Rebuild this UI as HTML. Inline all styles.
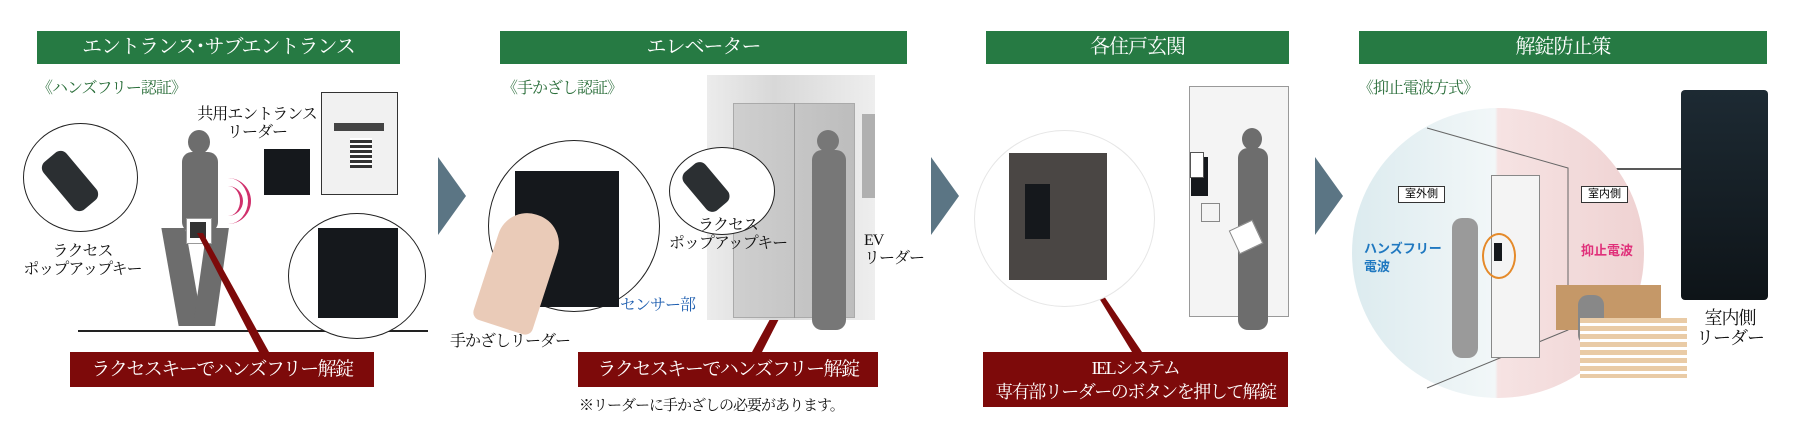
<!DOCTYPE html>
<html><head><meta charset="utf-8"><style>
html,body{margin:0;padding:0}
body{width:1810px;height:442px;background:#fff;position:relative;overflow:hidden;font-family:"Liberation Serif","Noto Serif CJK JP",serif}
.a{position:absolute}
.hd{position:absolute;top:31px;height:33px;background:#267a43;color:#fff;font-size:20px;letter-spacing:-1px;line-height:33px;text-align:center;white-space:nowrap}
.rb{position:absolute;background:#7d0a0a;color:#fff;font-size:19px;letter-spacing:-1.5px;text-align:center;white-space:nowrap}
.sub{position:absolute;top:75px;color:#2a6e3a;font-size:16px;letter-spacing:-1px;white-space:nowrap}
.t{position:absolute;font-size:16px;letter-spacing:-1px;color:#111;line-height:18px;text-align:center;white-space:nowrap}
.chev{position:absolute;top:157px;width:0;height:0;border-top:39px solid transparent;border-bottom:39px solid transparent;border-left:28px solid #5b7584}
.circ{position:absolute;border:1.5px solid #222;border-radius:50%;background:#fff}
.dark{position:absolute;background:#15181c}
.sil{position:absolute;background:#6d6d6d}
.lb{position:absolute;height:15px;border:1px solid #333;background:#fff;font-size:11px;text-align:center;line-height:15px;font-family:"Liberation Sans","Noto Sans CJK JP",sans-serif}
</style></head><body>
<div class="hd" style="left:37px;width:363px">エントランス･サブエントランス</div>
<div class="hd" style="left:500px;width:407px">エレベーター</div>
<div class="hd" style="left:986px;width:303px">各住戸玄関</div>
<div class="hd" style="left:1359px;width:408px">解錠防止策</div>

<div class="sub" style="left:37px">《ハンズフリー認証》</div>
<div class="sub" style="left:502px">《手かざし認証》</div>
<div class="sub" style="left:1358px">《抑止電波方式》</div>

<div class="chev" style="left:438px"></div>
<div class="chev" style="left:931px"></div>
<div class="chev" style="left:1315px"></div>

<!-- panel 1 -->
<div class="a" style="left:78px;top:330px;width:350px;height:1.5px;background:#222"></div>
<div class="circ" style="left:23px;top:123px;width:113px;height:107px"></div>
<div class="a" style="left:55px;top:150px;width:30px;height:62px;transform:rotate(-40deg);border-radius:8px;background:#2b2f32"></div>
<div class="t" style="left:20px;top:243px;width:125px">ラクセス<br>ポップアップキー</div>
<div class="sil" style="left:188px;top:130px;width:22px;height:24px;border-radius:50%"></div>
<div class="sil" style="left:182px;top:152px;width:36px;height:80px;border-radius:10px"></div>
<div class="sil" style="left:170px;top:228px;width:24px;height:98px;transform:skewX(10deg)"></div>
<div class="sil" style="left:200px;top:228px;width:22px;height:98px;transform:skewX(-8deg)"></div>
<div class="a" style="left:186px;top:218px;width:24px;height:24px;background:#fff;border:1px solid #999"></div>
<div class="a" style="left:190px;top:222px;width:16px;height:16px;background:#333"></div>
<div class="a" style="left:214px;top:178px;width:34px;height:46px;border-right:3px solid #d0306c;border-radius:0 40px 40px 0"></div>
<div class="a" style="left:208px;top:186px;width:32px;height:30px;border-right:3px solid #d0306c;border-radius:0 30px 30px 0"></div>
<svg class="a" style="left:0;top:0" width="1810" height="442"><polygon points="197,233 203,233 269,352 259,352" fill="#7d0a0a"/><polygon points="817,233 823,233 762,352 752,352" fill="#7d0a0a"/><polygon points="1088,280 1093,280 1142,352 1132,352" fill="#7d0a0a"/><line x1="571" y1="243" x2="629" y2="292" stroke="#1f5fb0" stroke-width="1.5"/><line x1="1569" y1="169" x2="1681" y2="169" stroke="#222" stroke-width="1.5"/></svg>
<div class="t" style="left:192px;top:106px;width:130px">共用エントランス<br>リーダー</div>
<div class="dark" style="left:264px;top:149px;width:46px;height:46px"></div>
<div class="a" style="left:321px;top:92px;width:77px;height:103px;border:1px solid #333;background:#f1f1f1;box-sizing:border-box"></div>
<div class="a" style="left:334px;top:123px;width:50px;height:8px;background:#444"></div>
<div class="a" style="left:350px;top:138px;width:22px;height:30px;background:repeating-linear-gradient(#fff 0 2px,#333 2px 5px)"></div>
<div class="circ" style="left:288px;top:213px;width:136px;height:124px"></div>
<div class="dark" style="left:318px;top:228px;width:80px;height:90px"></div>
<div class="rb" style="left:70px;top:352px;width:304px;height:35px;line-height:35px">ラクセスキーでハンズフリー解錠</div>

<!-- panel 2 -->
<div class="a" style="left:707px;top:75px;width:168px;height:245px;background:linear-gradient(90deg,#ececec,#d8d8d8 40%,#eee)"></div>
<div class="a" style="left:733px;top:103px;width:122px;height:215px;background:linear-gradient(90deg,#cfcfcf,#bdbdbd);border:1px solid #aaa;box-sizing:border-box"></div>
<div class="a" style="left:794px;top:103px;width:1px;height:215px;background:#999"></div>
<div class="a" style="left:862px;top:114px;width:13px;height:84px;background:#b0b0b0"></div>
<div class="sil" style="left:817px;top:130px;width:22px;height:22px;border-radius:50%;background:#777"></div>
<div class="sil" style="left:812px;top:150px;width:34px;height:180px;border-radius:10px;background:#777"></div>
<div class="circ" style="left:488px;top:140px;width:170px;height:170px"></div>
<div class="dark" style="left:515px;top:171px;width:104px;height:136px"></div>
<div class="a" style="left:488px;top:212px;width:62px;height:118px;background:#eacbb8;border-radius:30px 30px 8px 8px;transform:rotate(18deg)"></div>
<div class="circ" style="left:669px;top:147px;width:104px;height:86px"></div>
<div class="a" style="left:692px;top:162px;width:28px;height:50px;transform:rotate(-40deg);border-radius:8px;background:#2b2f32"></div>
<div class="t" style="left:663px;top:217px;width:130px">ラクセス<br>ポップアップキー</div>
<div class="t" style="left:864px;top:232px;width:50px;text-align:left">EV<br>リーダー</div>
<div class="t" style="left:450px;top:333px;text-align:left">手かざしリーダー</div>
<div class="t" style="left:620px;top:297px;color:#1f5fb0;text-align:left">センサー部</div>
<div class="rb" style="left:578px;top:352px;width:300px;height:35px;line-height:35px">ラクセスキーでハンズフリー解錠</div>
<div class="t" style="left:579px;top:397px;font-size:15px;text-align:left">※リーダーに手かざしの必要があります。</div>

<!-- panel 3 -->
<div class="circ" style="left:974px;top:130px;width:179px;height:175px;border-color:#e6e6e6"></div>
<div class="a" style="left:1009px;top:153px;width:98px;height:127px;background:#4a4644"></div>
<div class="dark" style="left:1025px;top:184px;width:25px;height:55px"></div>
<div class="a" style="left:1189px;top:86px;width:100px;height:231px;background:#f4f4f4;border:1px solid #999;box-sizing:border-box"></div>
<div class="dark" style="left:1191px;top:157px;width:17px;height:39px"></div>
<div class="a" style="left:1190px;top:152px;width:12px;height:24px;border:1px solid #555;background:#fff"></div>
<div class="a" style="left:1201px;top:203px;width:17px;height:17px;border:1px solid #888"></div>
<div class="sil" style="left:1242px;top:128px;width:20px;height:22px;border-radius:50%"></div>
<div class="sil" style="left:1238px;top:148px;width:30px;height:182px;border-radius:10px"></div>
<div class="a" style="left:1233px;top:224px;width:24px;height:24px;background:#fff;border:1px solid #888;transform:rotate(-25deg)"></div>
<div class="rb" style="left:983px;top:352px;width:305px;height:55px;line-height:24px;padding-top:4px;box-sizing:border-box;font-size:18px">IELシステム<br>専有部リーダーのボタンを押して解錠</div>

<!-- panel 4 -->
<div class="a" style="left:1352px;top:108px;width:292px;height:290px;border-radius:50%;background:linear-gradient(90deg,#dcebef 0%,#f2f7f8 49%,#f6e3e3 50%,#efd2d2 100%)"></div>
<svg class="a" style="left:0;top:0" width="1810" height="442"><polyline points="1427,128 1568,168 1568,330 1427,388" fill="none" stroke="#666" stroke-width="1"/></svg>
<div class="a" style="left:1491px;top:175px;width:49px;height:183px;background:#f4f4f4;border:1px solid #888;box-sizing:border-box"></div>
<div class="sil" style="left:1452px;top:218px;width:26px;height:140px;background:#9a9a9a;border-radius:10px"></div>
<div class="a" style="left:1482px;top:233px;width:34px;height:46px;border:2.5px solid #e58a2a;border-radius:50%;box-sizing:border-box"></div>
<div class="dark" style="left:1494px;top:243px;width:8px;height:18px"></div>
<div class="a" style="left:1556px;top:285px;width:105px;height:45px;background:#c59868"></div>
<div class="sil" style="left:1578px;top:295px;width:26px;height:50px;background:#888;border-radius:10px"></div>
<div class="a" style="left:1580px;top:318px;width:107px;height:60px;background:repeating-linear-gradient(#e9cba6 0 5px,#fff 5px 8px)"></div>
<div class="lb" style="left:1398px;top:186px;width:45px">室外側</div>
<div class="lb" style="left:1581px;top:186px;width:45px">室内側</div>
<div class="a" style="left:1364px;top:240px;color:#1f78c0;font-size:13px;font-weight:bold;font-family:'Liberation Sans','Noto Sans CJK JP',sans-serif;line-height:18px">ハンズフリー<br>電波</div>
<div class="a" style="left:1581px;top:240px;color:#e0307a;font-size:13px;font-weight:bold;font-family:'Liberation Sans','Noto Sans CJK JP',sans-serif">抑止電波</div>
<div class="a" style="left:1681px;top:90px;width:87px;height:210px;border-radius:4px;background:linear-gradient(#1d2a33,#0e1418)"></div>
<div class="t" style="left:1690px;top:308px;width:80px;font-size:18px;line-height:20px">室内側<br>リーダー</div>
</body></html>
